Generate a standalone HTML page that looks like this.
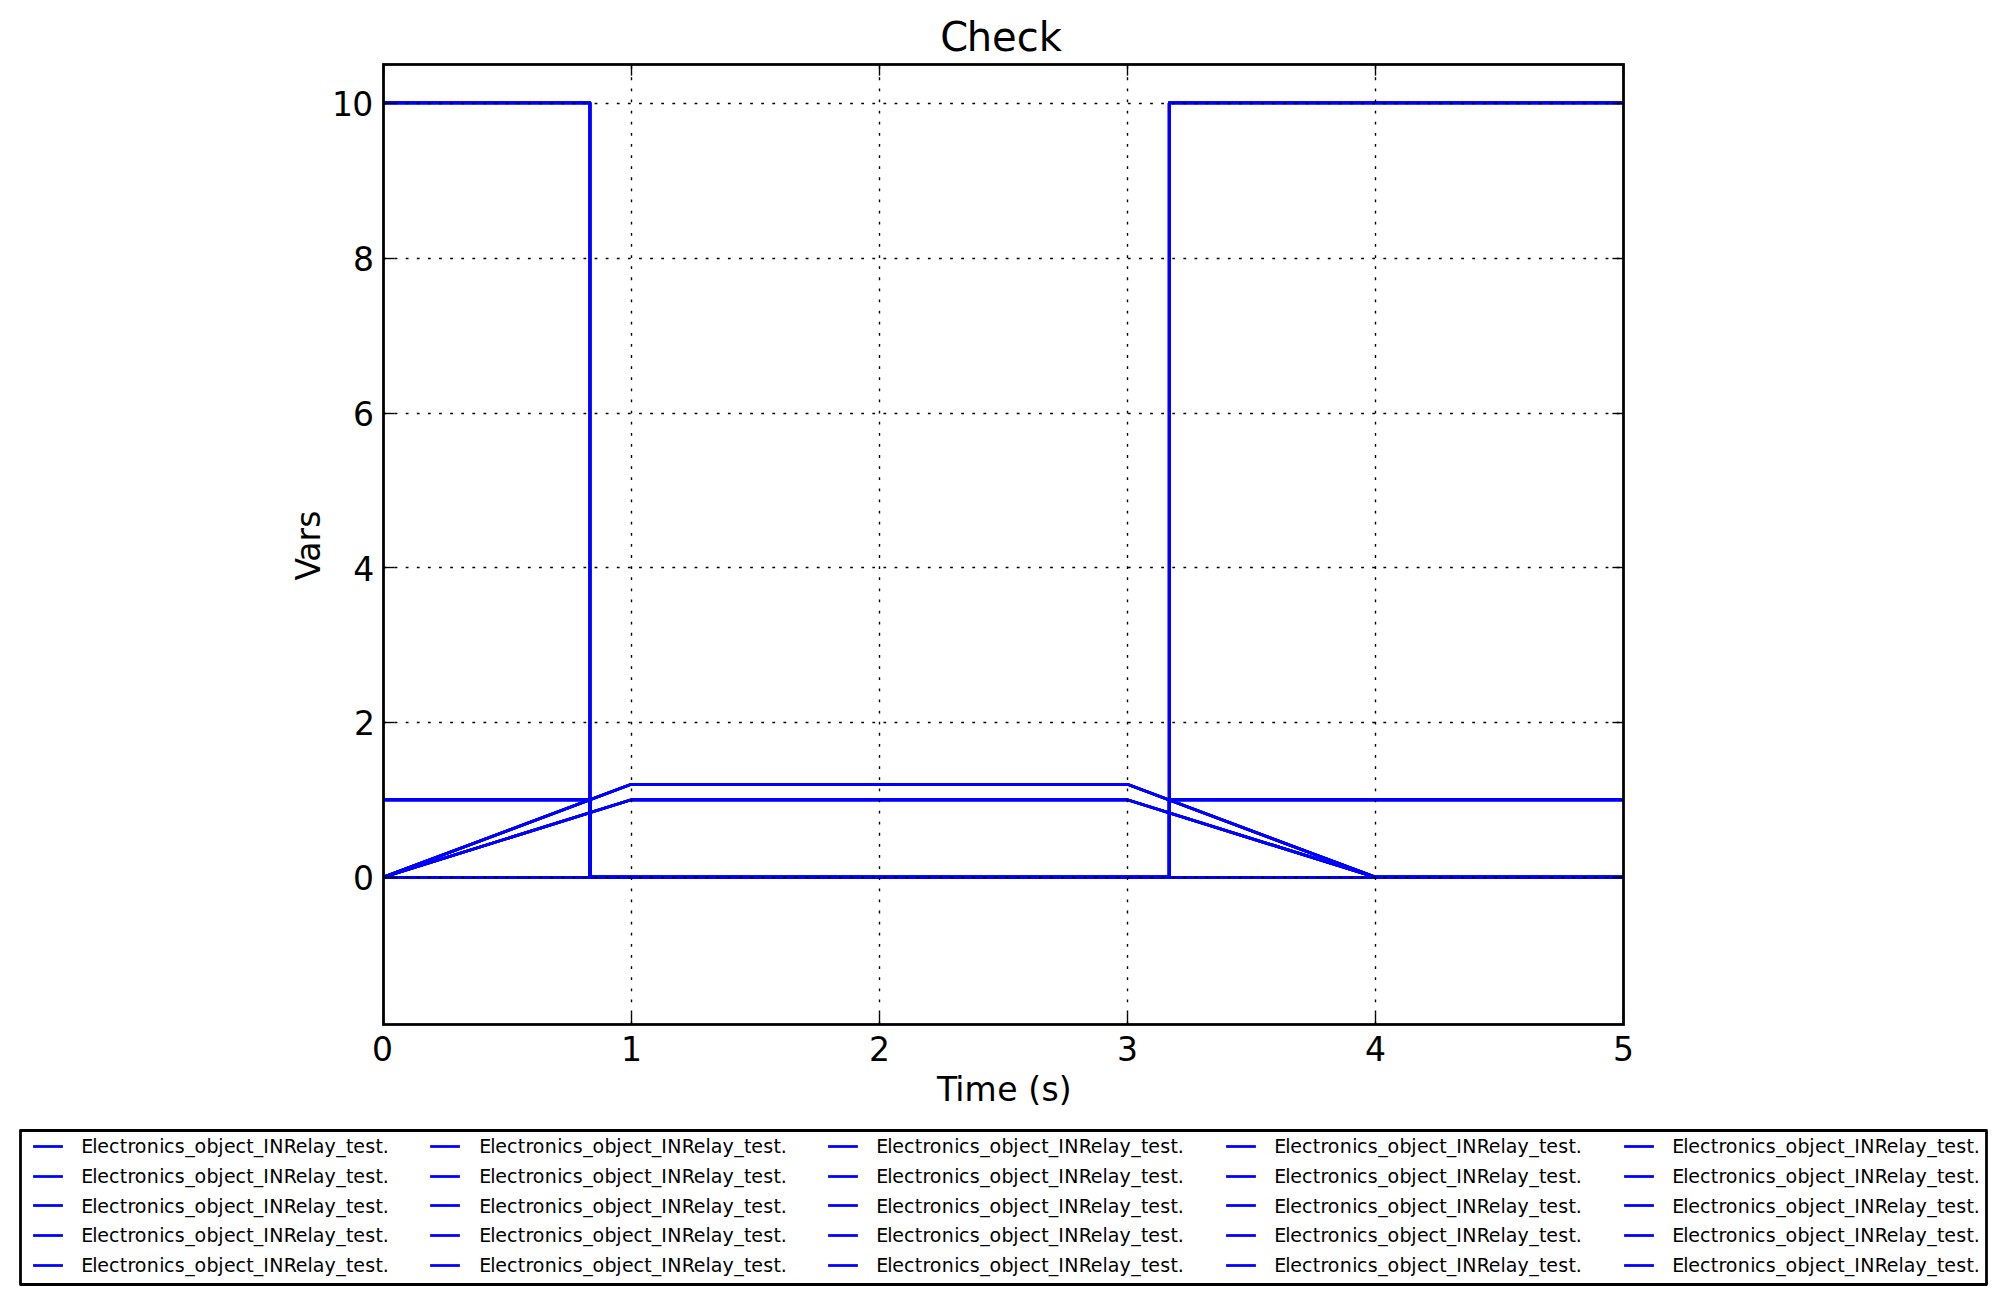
<!DOCTYPE html>
<html lang="en"><head><meta charset="utf-8"><title>Check</title>
<style>
html,body{margin:0;padding:0;background:#fff;}
body{width:2005px;height:1304px;overflow:hidden;}
svg{display:block;}
text{font-family:"DejaVu Sans","Liberation Sans",sans-serif;fill:#000;}
.tk{font-size:33px;}
.lg{font-size:19px;}
</style></head><body>
<svg width="2005" height="1304" viewBox="0 0 2005 1304">
<rect x="0" y="0" width="2005" height="1304" fill="#fff"/>
<defs><clipPath id="ax"><rect x="383.50" y="64.50" width="1240.00" height="960.00"/></clipPath></defs>
<g clip-path="url(#ax)" fill="none" stroke="#0000ff" stroke-width="2.78" stroke-linejoin="round" stroke-linecap="square">
<polyline points="383.30,102.98 589.97,102.98 589.97,877.17 1169.25,877.17 1169.25,102.98 1623.30,102.98"/>
<polyline points="383.30,799.75 589.97,799.75 589.97,877.17 1169.25,877.17 1169.25,799.75 1623.30,799.75"/>
<polyline points="383.30,877.17 631.30,784.27 1127.30,784.27 1375.30,877.17 1623.30,877.17"/>
<polyline points="383.30,877.17 631.30,799.75 1127.30,799.75 1375.30,877.17 1623.30,877.17"/>
<polyline points="383.30,102.98 589.97,102.98 589.97,877.17 1169.25,877.17 1169.25,102.98 1623.30,102.98"/>
<polyline points="383.30,799.75 589.97,799.75 589.97,877.17 1169.25,877.17 1169.25,799.75 1623.30,799.75"/>
<polyline points="383.30,877.17 631.30,784.27 1127.30,784.27 1375.30,877.17 1623.30,877.17"/>
<polyline points="383.30,877.17 631.30,799.75 1127.30,799.75 1375.30,877.17 1623.30,877.17"/>
<polyline points="383.30,102.98 589.97,102.98 589.97,877.17 1169.25,877.17 1169.25,102.98 1623.30,102.98"/>
<polyline points="383.30,799.75 589.97,799.75 589.97,877.17 1169.25,877.17 1169.25,799.75 1623.30,799.75"/>
<polyline points="383.30,877.17 631.30,784.27 1127.30,784.27 1375.30,877.17 1623.30,877.17"/>
<polyline points="383.30,877.17 631.30,799.75 1127.30,799.75 1375.30,877.17 1623.30,877.17"/>
<polyline points="383.30,102.98 589.97,102.98 589.97,877.17 1169.25,877.17 1169.25,102.98 1623.30,102.98"/>
<polyline points="383.30,799.75 589.97,799.75 589.97,877.17 1169.25,877.17 1169.25,799.75 1623.30,799.75"/>
<polyline points="383.30,877.17 631.30,784.27 1127.30,784.27 1375.30,877.17 1623.30,877.17"/>
<polyline points="383.30,877.17 631.30,799.75 1127.30,799.75 1375.30,877.17 1623.30,877.17"/>
<polyline points="383.30,102.98 589.97,102.98 589.97,877.17 1169.25,877.17 1169.25,102.98 1623.30,102.98"/>
<polyline points="383.30,799.75 589.97,799.75 589.97,877.17 1169.25,877.17 1169.25,799.75 1623.30,799.75"/>
<polyline points="383.30,877.17 631.30,784.27 1127.30,784.27 1375.30,877.17 1623.30,877.17"/>
<polyline points="383.30,877.17 631.30,799.75 1127.30,799.75 1375.30,877.17 1623.30,877.17"/>
<line x1="383.50" y1="877.5" x2="1623.50" y2="877.5"/>
<line x1="383.50" y1="877.5" x2="1623.50" y2="877.5"/>
<line x1="383.50" y1="877.5" x2="1623.50" y2="877.5"/>
<line x1="383.50" y1="877.5" x2="1623.50" y2="877.5"/>
<line x1="383.50" y1="877.5" x2="1623.50" y2="877.5"/>
</g>
<g fill="none" stroke="#000" stroke-width="1.39" stroke-dasharray="2.78 8.33">
<line x1="631.50" y1="1024.50" x2="631.50" y2="64.50"/>
<line x1="879.50" y1="1024.50" x2="879.50" y2="64.50"/>
<line x1="1127.50" y1="1024.50" x2="1127.50" y2="64.50"/>
<line x1="1375.50" y1="1024.50" x2="1375.50" y2="64.50"/>
<line x1="383.50" y1="877.50" x2="1623.50" y2="877.50"/>
<line x1="383.50" y1="722.50" x2="1623.50" y2="722.50"/>
<line x1="383.50" y1="567.50" x2="1623.50" y2="567.50"/>
<line x1="383.50" y1="413.50" x2="1623.50" y2="413.50"/>
<line x1="383.50" y1="258.50" x2="1623.50" y2="258.50"/>
<line x1="383.50" y1="103.50" x2="1623.50" y2="103.50"/>
</g>
<g fill="none" stroke="#000" stroke-width="1.39">
<line x1="383.50" y1="1024.50" x2="383.50" y2="1013.39"/><line x1="383.50" y1="64.50" x2="383.50" y2="75.61"/>
<line x1="631.50" y1="1024.50" x2="631.50" y2="1013.39"/><line x1="631.50" y1="64.50" x2="631.50" y2="75.61"/>
<line x1="879.50" y1="1024.50" x2="879.50" y2="1013.39"/><line x1="879.50" y1="64.50" x2="879.50" y2="75.61"/>
<line x1="1127.50" y1="1024.50" x2="1127.50" y2="1013.39"/><line x1="1127.50" y1="64.50" x2="1127.50" y2="75.61"/>
<line x1="1375.50" y1="1024.50" x2="1375.50" y2="1013.39"/><line x1="1375.50" y1="64.50" x2="1375.50" y2="75.61"/>
<line x1="1623.50" y1="1024.50" x2="1623.50" y2="1013.39"/><line x1="1623.50" y1="64.50" x2="1623.50" y2="75.61"/>
<line x1="383.50" y1="877.50" x2="394.61" y2="877.50"/><line x1="1623.50" y1="877.50" x2="1612.39" y2="877.50"/>
<line x1="383.50" y1="722.50" x2="394.61" y2="722.50"/><line x1="1623.50" y1="722.50" x2="1612.39" y2="722.50"/>
<line x1="383.50" y1="567.50" x2="394.61" y2="567.50"/><line x1="1623.50" y1="567.50" x2="1612.39" y2="567.50"/>
<line x1="383.50" y1="413.50" x2="394.61" y2="413.50"/><line x1="1623.50" y1="413.50" x2="1612.39" y2="413.50"/>
<line x1="383.50" y1="258.50" x2="394.61" y2="258.50"/><line x1="1623.50" y1="258.50" x2="1612.39" y2="258.50"/>
<line x1="383.50" y1="103.50" x2="394.61" y2="103.50"/><line x1="1623.50" y1="103.50" x2="1612.39" y2="103.50"/>
</g>
<rect x="383.50" y="64.50" width="1240.00" height="960.00" fill="none" stroke="#000" stroke-width="2.78"/>
<text class="tk" x="382.50" y="1061.00" text-anchor="middle">0</text>
<text class="tk" x="631.50" y="1061.00" text-anchor="middle">1</text>
<text class="tk" x="879.50" y="1061.00" text-anchor="middle">2</text>
<text class="tk" x="1127.50" y="1061.00" text-anchor="middle">3</text>
<text class="tk" x="1375.50" y="1061.00" text-anchor="middle">4</text>
<text class="tk" x="1623.50" y="1061.00" text-anchor="middle">5</text>
<text class="tk" x="373.90" y="890" text-anchor="end">0</text>
<text class="tk" x="374.90" y="735" text-anchor="end">2</text>
<text class="tk" x="374.20" y="581" text-anchor="end">4</text>
<text class="tk" x="374.10" y="426" text-anchor="end">6</text>
<text class="tk" x="373.90" y="271" text-anchor="end">8</text>
<text class="tk" x="331.9 352.3" y="116">10</text>
<text x="940.28 966.7 992.06 1016.67 1038.76" y="51" font-size="40">Check</text>
<text class="tk" x="937.1 955.14 964.5 997.2 1018.25 1028.33 1041.61 1058.81" y="1101">Time (s)</text>
<text class="tk" transform="translate(320.2,546.4) rotate(-90)" x="-34.15 -15.25 4.98 18.55">Vars</text>
<rect x="20.5" y="1130.5" width="1966.00" height="154.00" fill="#fff" stroke="#000" stroke-width="2.78" stroke-linejoin="round"/>
<g stroke="#0000ff" stroke-width="2.78" fill="none">
<line x1="33.1" y1="1146.5" x2="62.9" y2="1146.5"/><line x1="33.1" y1="1176.5" x2="62.9" y2="1176.5"/><line x1="33.1" y1="1205.5" x2="62.9" y2="1205.5"/><line x1="33.1" y1="1235.5" x2="62.9" y2="1235.5"/><line x1="33.1" y1="1265.5" x2="62.9" y2="1265.5"/>
<line x1="430.1" y1="1146.5" x2="459.9" y2="1146.5"/><line x1="430.1" y1="1176.5" x2="459.9" y2="1176.5"/><line x1="430.1" y1="1205.5" x2="459.9" y2="1205.5"/><line x1="430.1" y1="1235.5" x2="459.9" y2="1235.5"/><line x1="430.1" y1="1265.5" x2="459.9" y2="1265.5"/>
<line x1="828.1" y1="1146.5" x2="857.9" y2="1146.5"/><line x1="828.1" y1="1176.5" x2="857.9" y2="1176.5"/><line x1="828.1" y1="1205.5" x2="857.9" y2="1205.5"/><line x1="828.1" y1="1235.5" x2="857.9" y2="1235.5"/><line x1="828.1" y1="1265.5" x2="857.9" y2="1265.5"/>
<line x1="1226.1" y1="1146.5" x2="1255.9" y2="1146.5"/><line x1="1226.1" y1="1176.5" x2="1255.9" y2="1176.5"/><line x1="1226.1" y1="1205.5" x2="1255.9" y2="1205.5"/><line x1="1226.1" y1="1235.5" x2="1255.9" y2="1235.5"/><line x1="1226.1" y1="1265.5" x2="1255.9" y2="1265.5"/>
<line x1="1624.1" y1="1146.5" x2="1653.9" y2="1146.5"/><line x1="1624.1" y1="1176.5" x2="1653.9" y2="1176.5"/><line x1="1624.1" y1="1205.5" x2="1653.9" y2="1205.5"/><line x1="1624.1" y1="1235.5" x2="1653.9" y2="1235.5"/><line x1="1624.1" y1="1265.5" x2="1653.9" y2="1265.5"/>
</g>
<text class="lg" x="81.30 92.19 97.34 109.12 119.84 127.57 134.85 146.75 159.27 164.02 174.75 185.13 194.50 206.40 218.33 223.89 235.46 246.19 253.71 263.29 269.37 283.66 295.69 307.47 312.82 324.55 336.27 346.05 353.37 365.35 375.53 382.85" y="1153">Electronics_object_INRelay_test.</text>
<text class="lg" x="81.30 92.19 97.34 109.12 119.84 127.57 134.85 146.75 159.27 164.02 174.75 185.13 194.50 206.40 218.33 223.89 235.46 246.19 253.71 263.29 269.37 283.66 295.69 307.47 312.82 324.55 336.27 346.05 353.37 365.35 375.53 382.85" y="1183">Electronics_object_INRelay_test.</text>
<text class="lg" x="81.30 92.19 97.34 109.12 119.84 127.57 134.85 146.75 159.27 164.02 174.75 185.13 194.50 206.40 218.33 223.89 235.46 246.19 253.71 263.29 269.37 283.66 295.69 307.47 312.82 324.55 336.27 346.05 353.37 365.35 375.53 382.85" y="1213">Electronics_object_INRelay_test.</text>
<text class="lg" x="81.30 92.19 97.34 109.12 119.84 127.57 134.85 146.75 159.27 164.02 174.75 185.13 194.50 206.40 218.33 223.89 235.46 246.19 253.71 263.29 269.37 283.66 295.69 307.47 312.82 324.55 336.27 346.05 353.37 365.35 375.53 382.85" y="1242">Electronics_object_INRelay_test.</text>
<text class="lg" x="81.30 92.19 97.34 109.12 119.84 127.57 134.85 146.75 159.27 164.02 174.75 185.13 194.50 206.40 218.33 223.89 235.46 246.19 253.71 263.29 269.37 283.66 295.69 307.47 312.82 324.55 336.27 346.05 353.37 365.35 375.53 382.85" y="1272">Electronics_object_INRelay_test.</text>
<text class="lg" x="479.30 490.19 495.34 507.12 517.84 525.57 532.85 544.75 557.27 562.02 572.75 583.13 592.50 604.40 616.33 621.89 633.46 644.19 651.71 661.29 667.37 681.66 693.69 705.47 710.82 722.55 734.27 744.05 751.37 763.35 773.53 780.85" y="1153">Electronics_object_INRelay_test.</text>
<text class="lg" x="479.30 490.19 495.34 507.12 517.84 525.57 532.85 544.75 557.27 562.02 572.75 583.13 592.50 604.40 616.33 621.89 633.46 644.19 651.71 661.29 667.37 681.66 693.69 705.47 710.82 722.55 734.27 744.05 751.37 763.35 773.53 780.85" y="1183">Electronics_object_INRelay_test.</text>
<text class="lg" x="479.30 490.19 495.34 507.12 517.84 525.57 532.85 544.75 557.27 562.02 572.75 583.13 592.50 604.40 616.33 621.89 633.46 644.19 651.71 661.29 667.37 681.66 693.69 705.47 710.82 722.55 734.27 744.05 751.37 763.35 773.53 780.85" y="1213">Electronics_object_INRelay_test.</text>
<text class="lg" x="479.30 490.19 495.34 507.12 517.84 525.57 532.85 544.75 557.27 562.02 572.75 583.13 592.50 604.40 616.33 621.89 633.46 644.19 651.71 661.29 667.37 681.66 693.69 705.47 710.82 722.55 734.27 744.05 751.37 763.35 773.53 780.85" y="1242">Electronics_object_INRelay_test.</text>
<text class="lg" x="479.30 490.19 495.34 507.12 517.84 525.57 532.85 544.75 557.27 562.02 572.75 583.13 592.50 604.40 616.33 621.89 633.46 644.19 651.71 661.29 667.37 681.66 693.69 705.47 710.82 722.55 734.27 744.05 751.37 763.35 773.53 780.85" y="1272">Electronics_object_INRelay_test.</text>
<text class="lg" x="876.30 887.19 892.34 904.12 914.84 922.57 929.85 941.75 954.27 959.02 969.75 980.13 989.50 1001.40 1013.33 1018.89 1030.46 1041.19 1048.71 1058.29 1064.37 1078.66 1090.69 1102.47 1107.82 1119.55 1131.27 1141.05 1148.37 1160.35 1170.53 1177.85" y="1153">Electronics_object_INRelay_test.</text>
<text class="lg" x="876.30 887.19 892.34 904.12 914.84 922.57 929.85 941.75 954.27 959.02 969.75 980.13 989.50 1001.40 1013.33 1018.89 1030.46 1041.19 1048.71 1058.29 1064.37 1078.66 1090.69 1102.47 1107.82 1119.55 1131.27 1141.05 1148.37 1160.35 1170.53 1177.85" y="1183">Electronics_object_INRelay_test.</text>
<text class="lg" x="876.30 887.19 892.34 904.12 914.84 922.57 929.85 941.75 954.27 959.02 969.75 980.13 989.50 1001.40 1013.33 1018.89 1030.46 1041.19 1048.71 1058.29 1064.37 1078.66 1090.69 1102.47 1107.82 1119.55 1131.27 1141.05 1148.37 1160.35 1170.53 1177.85" y="1213">Electronics_object_INRelay_test.</text>
<text class="lg" x="876.30 887.19 892.34 904.12 914.84 922.57 929.85 941.75 954.27 959.02 969.75 980.13 989.50 1001.40 1013.33 1018.89 1030.46 1041.19 1048.71 1058.29 1064.37 1078.66 1090.69 1102.47 1107.82 1119.55 1131.27 1141.05 1148.37 1160.35 1170.53 1177.85" y="1242">Electronics_object_INRelay_test.</text>
<text class="lg" x="876.30 887.19 892.34 904.12 914.84 922.57 929.85 941.75 954.27 959.02 969.75 980.13 989.50 1001.40 1013.33 1018.89 1030.46 1041.19 1048.71 1058.29 1064.37 1078.66 1090.69 1102.47 1107.82 1119.55 1131.27 1141.05 1148.37 1160.35 1170.53 1177.85" y="1272">Electronics_object_INRelay_test.</text>
<text class="lg" x="1274.30 1285.19 1290.34 1302.12 1312.84 1320.57 1327.85 1339.75 1352.27 1357.02 1367.75 1378.13 1387.50 1399.40 1411.33 1416.89 1428.46 1439.19 1446.71 1456.29 1462.37 1476.66 1488.69 1500.47 1505.82 1517.55 1529.27 1539.05 1546.37 1558.35 1568.53 1575.85" y="1153">Electronics_object_INRelay_test.</text>
<text class="lg" x="1274.30 1285.19 1290.34 1302.12 1312.84 1320.57 1327.85 1339.75 1352.27 1357.02 1367.75 1378.13 1387.50 1399.40 1411.33 1416.89 1428.46 1439.19 1446.71 1456.29 1462.37 1476.66 1488.69 1500.47 1505.82 1517.55 1529.27 1539.05 1546.37 1558.35 1568.53 1575.85" y="1183">Electronics_object_INRelay_test.</text>
<text class="lg" x="1274.30 1285.19 1290.34 1302.12 1312.84 1320.57 1327.85 1339.75 1352.27 1357.02 1367.75 1378.13 1387.50 1399.40 1411.33 1416.89 1428.46 1439.19 1446.71 1456.29 1462.37 1476.66 1488.69 1500.47 1505.82 1517.55 1529.27 1539.05 1546.37 1558.35 1568.53 1575.85" y="1213">Electronics_object_INRelay_test.</text>
<text class="lg" x="1274.30 1285.19 1290.34 1302.12 1312.84 1320.57 1327.85 1339.75 1352.27 1357.02 1367.75 1378.13 1387.50 1399.40 1411.33 1416.89 1428.46 1439.19 1446.71 1456.29 1462.37 1476.66 1488.69 1500.47 1505.82 1517.55 1529.27 1539.05 1546.37 1558.35 1568.53 1575.85" y="1242">Electronics_object_INRelay_test.</text>
<text class="lg" x="1274.30 1285.19 1290.34 1302.12 1312.84 1320.57 1327.85 1339.75 1352.27 1357.02 1367.75 1378.13 1387.50 1399.40 1411.33 1416.89 1428.46 1439.19 1446.71 1456.29 1462.37 1476.66 1488.69 1500.47 1505.82 1517.55 1529.27 1539.05 1546.37 1558.35 1568.53 1575.85" y="1272">Electronics_object_INRelay_test.</text>
<text class="lg" x="1672.30 1683.19 1688.34 1700.12 1710.84 1718.57 1725.85 1737.75 1750.27 1755.02 1765.75 1776.13 1785.50 1797.40 1809.33 1814.89 1826.46 1837.19 1844.71 1854.29 1860.37 1874.66 1886.69 1898.47 1903.82 1915.55 1927.27 1937.05 1944.37 1956.35 1966.53 1973.85" y="1153">Electronics_object_INRelay_test.</text>
<text class="lg" x="1672.30 1683.19 1688.34 1700.12 1710.84 1718.57 1725.85 1737.75 1750.27 1755.02 1765.75 1776.13 1785.50 1797.40 1809.33 1814.89 1826.46 1837.19 1844.71 1854.29 1860.37 1874.66 1886.69 1898.47 1903.82 1915.55 1927.27 1937.05 1944.37 1956.35 1966.53 1973.85" y="1183">Electronics_object_INRelay_test.</text>
<text class="lg" x="1672.30 1683.19 1688.34 1700.12 1710.84 1718.57 1725.85 1737.75 1750.27 1755.02 1765.75 1776.13 1785.50 1797.40 1809.33 1814.89 1826.46 1837.19 1844.71 1854.29 1860.37 1874.66 1886.69 1898.47 1903.82 1915.55 1927.27 1937.05 1944.37 1956.35 1966.53 1973.85" y="1213">Electronics_object_INRelay_test.</text>
<text class="lg" x="1672.30 1683.19 1688.34 1700.12 1710.84 1718.57 1725.85 1737.75 1750.27 1755.02 1765.75 1776.13 1785.50 1797.40 1809.33 1814.89 1826.46 1837.19 1844.71 1854.29 1860.37 1874.66 1886.69 1898.47 1903.82 1915.55 1927.27 1937.05 1944.37 1956.35 1966.53 1973.85" y="1242">Electronics_object_INRelay_test.</text>
<text class="lg" x="1672.30 1683.19 1688.34 1700.12 1710.84 1718.57 1725.85 1737.75 1750.27 1755.02 1765.75 1776.13 1785.50 1797.40 1809.33 1814.89 1826.46 1837.19 1844.71 1854.29 1860.37 1874.66 1886.69 1898.47 1903.82 1915.55 1927.27 1937.05 1944.37 1956.35 1966.53 1973.85" y="1272">Electronics_object_INRelay_test.</text>
</svg>
</body></html>
